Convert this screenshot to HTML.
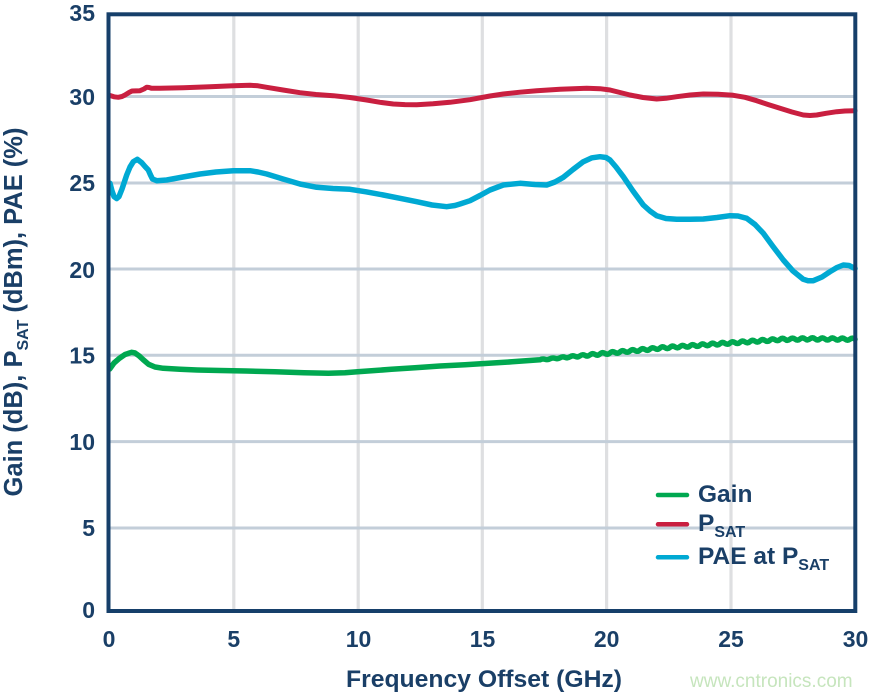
<!DOCTYPE html>
<html>
<head>
<meta charset="utf-8">
<style>
  html,body{margin:0;padding:0;background:#ffffff;}
  svg{display:block;}
  text{font-family:"Liberation Sans",Arial,sans-serif;}
</style>
</head>
<body>
<svg width="874" height="696" viewBox="0 0 874 696" xmlns="http://www.w3.org/2000/svg">
  <rect x="0" y="0" width="874" height="696" fill="#ffffff"/>

  <!-- vertical gridlines -->
  <g stroke="#dedfe1" stroke-width="3.2">
    <line x1="233.8" y1="14" x2="233.8" y2="611"/>
    <line x1="358.2" y1="14" x2="358.2" y2="611"/>
    <line x1="482.3" y1="14" x2="482.3" y2="611"/>
    <line x1="606.6" y1="14" x2="606.6" y2="611"/>
    <line x1="731" y1="14" x2="731" y2="611"/>
  </g>
  <!-- horizontal gridlines -->
  <g stroke="#c3ced9" stroke-width="3">
    <line x1="108" y1="96.5" x2="855" y2="96.5"/>
    <line x1="108" y1="183" x2="855" y2="183"/>
    <line x1="108" y1="269" x2="855" y2="269"/>
    <line x1="108" y1="355.3" x2="855" y2="355.3"/>
    <line x1="108" y1="441.6" x2="855" y2="441.6"/>
    <line x1="108" y1="528" x2="855" y2="528"/>
  </g>

  <!-- Gain (green) -->
  <path fill="none" stroke="#00a850" stroke-width="5.5" stroke-linejoin="round" stroke-linecap="round"
    d="M109.7,369 L114,363 L119.4,358.3 L125,354.5 L131.6,352.3 L135,353 L138.9,355.7 L143,359.5 L148.6,364.3 L155,367 L163.2,368.3 L180,369.3 L197.2,370 L220,370.5 L245.8,371 L275,371.7 L304.1,372.7 L328.4,373.3 L345,372.7 L357.5,371.7 L375,370.5 L391.5,369.3 L415,367.7 L440.1,366 L465,364.7 L488.7,363.3 L512,361.8 L540,359.8
    q2.5,-1.4 5,-0.49 q2.5,0.9 5,-0.49 q2.5,-1.4 5,-0.49 q2.5,0.9 5,-0.49 q2.5,-1.6 5,-0.49 q2.5,1.1 5,-0.49
    q2.5,-1.8 5,-0.49 q2.5,1.3 5,-0.49 q2.5,-2 5,-0.49 q2.5,1.5 5,-0.49 q2.5,-2.2 5,-0.49 q2.5,1.7 5,-0.49
    q2.5,-2.2 5,-0.49 q2.5,1.7 5,-0.49 q2.5,-2.2 5,-0.49 q2.5,1.7 5,-0.49 q2.5,-2.2 5,-0.49 q2.5,1.7 5,-0.49
    q2.5,-2.2 5,-0.49 q2.5,1.7 5,-0.49 q2.5,-2.2 5,-0.49 q2.5,1.7 5,-0.49 q2.5,-2.2 5,-0.49 q2.5,1.7 5,-0.49
    q2.5,-2.2 5,-0.36 q2.5,1.8 5,-0.36 q2.5,-2.2 5,-0.36 q2.5,1.8 5,-0.36 q2.5,-2.2 5,-0.36 q2.5,1.8 5,-0.36
    q2.5,-2.2 5,-0.36 q2.5,1.8 5,-0.36 q2.5,-2.2 5,-0.36 q2.5,1.8 5,-0.36 q2.5,-2.2 5,-0.36 q2.5,1.8 5,-0.36
    q2.5,-2.2 5,-0.36 q2.5,1.8 5,-0.36 q2.5,-2.2 5,-0.36 q2.5,1.8 5,-0.36 q2.5,-2.2 5,-0.36 q2.5,1.8 5,-0.36
    q2.5,-2.2 5,-0.36 q2.5,1.8 5,-0.36 q2.5,-2.2 5,-0.36 q2.5,1.8 5,-0.36 q2.5,-2.2 5,-0.36 q2.5,1.8 5,-0.36
    q2.5,-2 5,-0.1 q2.5,2 5,-0.1 q2.5,-2 5,-0.1 q2.5,2 5,-0.1 q2.5,-2 5,-0.1 q2.5,2 5,-0.1
    q2.5,-2 5,0.05 q2.5,2 5,0.05 q2.5,-2 5,0.05 q2.5,2 5,0.05 q2.5,-2 5,0.05 q2.5,2 5,0.05
    q2.5,-2 5,0.05 q2.5,2 5,0.05 q2.5,-2 5,0.05"/>

  <!-- PSAT (red) -->
  <path fill="none" stroke="#c91f40" stroke-width="5" stroke-linejoin="round" stroke-linecap="round"
    d="M110,95.5 L114,96.8 L118.3,97.3 L122,96.5 L125,95 L129,92.5 L132,91 L140,90.7 L144,89 L146.7,87.2 L149,87.5 L151.7,88.3 L160,88.2 L183.3,87.7 L210,86.8 L233.3,85.7 L250,85.3 L258,85.8 L266.7,87.3 L283,90 L300,92.7 L316,94.5 L333.3,95.7 L350,97.5 L366.7,100 L380,102.3 L393.3,104 L405,104.6 L416.7,104.7 L433,103.8 L450,102.3 L470,99.7 L490,96 L503.3,94 L520,92.2 L536.7,90.7 L560,89.3 L586.7,88.3 L600,88.7 L610,90 L620,92.5 L630,95 L643,97.5 L656.7,99 L666,98.3 L676.7,96.7 L690,95 L703.3,94 L718,94.3 L733.3,95.3 L745,97.3 L756.7,100.7 L768,104.5 L780,108.3 L792,112 L803.3,115 L810,115.5 L816.7,115 L826,113.3 L836.7,111.7 L845,111 L855,110.7"/>

  <!-- PAE (cyan) -->
  <path fill="none" stroke="#00a9d3" stroke-width="5.5" stroke-linejoin="round" stroke-linecap="round"
    d="M110,183.3 L112,191 L114,196.5 L116.7,198.5 L119,196.5 L122,189 L126.7,175 L130,167 L133.3,161.7 L137.3,159.3 L141.7,162.7 L145,166.5 L148.3,170 L150.5,175 L152.5,179 L156.7,180.7 L166.7,180 L183,177 L200,174 L216,172 L233.3,170.7 L250,170.7 L258,172 L266.7,174 L283,179 L300,184 L316.7,187.3 L333,188.5 L350,189.3 L366,191.8 L383.3,195 L400,198.3 L416.7,201.7 L432,205 L446.7,206.7 L455,205.5 L460,204 L470,200.7 L480,195.5 L490,190 L503.3,185 L520,183.3 L535,184.5 L546.7,185 L555,182 L563.3,177.3 L573,169.5 L583.3,161.7 L592,157.8 L600,156.7 L606,157.5 L610,160 L616,167 L623.3,176.7 L633,191 L643.3,205 L650,211 L656.7,215.7 L666,218.5 L676.7,219.3 L690,219.3 L703.3,219 L717,217.5 L730,215.7 L738,216 L746.7,218.3 L755,224.5 L763.3,233.3 L773,246.5 L783.3,260 L793,271 L803.3,279.3 L808,280.7 L813.3,280.7 L822,277 L830,271.7 L837,267.5 L843.3,265 L849,265.5 L855,268.5"/>

  <!-- frame -->
  <rect x="108.5" y="14.3" width="746.8" height="596.7" fill="none" stroke="#163f6a" stroke-width="4"/>

  <!-- Y tick labels -->
  <g fill="#1a3f67" font-size="23" font-weight="bold" text-anchor="end">
    <text x="95" y="21">35</text>
    <text x="95" y="105">30</text>
    <text x="95" y="191">25</text>
    <text x="95" y="278">20</text>
    <text x="95" y="363.5">15</text>
    <text x="95" y="450">10</text>
    <text x="95" y="536">5</text>
    <text x="95" y="618">0</text>
  </g>

  <!-- X tick labels -->
  <g fill="#1a3f67" font-size="23" font-weight="bold" text-anchor="middle">
    <text x="109" y="647">0</text>
    <text x="233.8" y="647">5</text>
    <text x="358.5" y="647">10</text>
    <text x="482.5" y="647">15</text>
    <text x="606.7" y="647">20</text>
    <text x="731" y="647">25</text>
    <text x="855.5" y="647">30</text>
  </g>

  <!-- X title -->
  <text x="484" y="687" fill="#1a3f67" font-size="24" font-weight="bold" text-anchor="middle" textLength="276" lengthAdjust="spacingAndGlyphs">Frequency Offset (GHz)</text>

  <!-- Y title -->
  <text transform="translate(22,312) rotate(-90)" x="0" y="0" fill="#1a3f67" font-size="25.5" font-weight="bold" text-anchor="middle">Gain (dB), P<tspan font-size="16" dy="6">SAT</tspan><tspan dy="-6"> (dBm), PAE (%)</tspan></text>

  <!-- Legend -->
  <g stroke-width="4.5" stroke-linecap="round">
    <line x1="658" y1="495" x2="687" y2="495" stroke="#00a850"/>
    <line x1="658" y1="524.3" x2="687" y2="524.3" stroke="#c91f40"/>
    <line x1="658" y1="557.3" x2="687" y2="557.3" stroke="#00a9d3"/>
  </g>
  <g fill="#1a3f67" font-size="24.5" font-weight="bold">
    <text x="698" y="502">Gain</text>
    <text x="698" y="531">P<tspan font-size="16" dy="6">SAT</tspan></text>
    <text x="698" y="564">PAE at P<tspan font-size="16" dy="6">SAT</tspan></text>
  </g>

  <!-- watermark -->
  <text x="690" y="687" fill="#c6e5bd" font-size="19">www.cntronics.com</text>
</svg>
</body>
</html>
